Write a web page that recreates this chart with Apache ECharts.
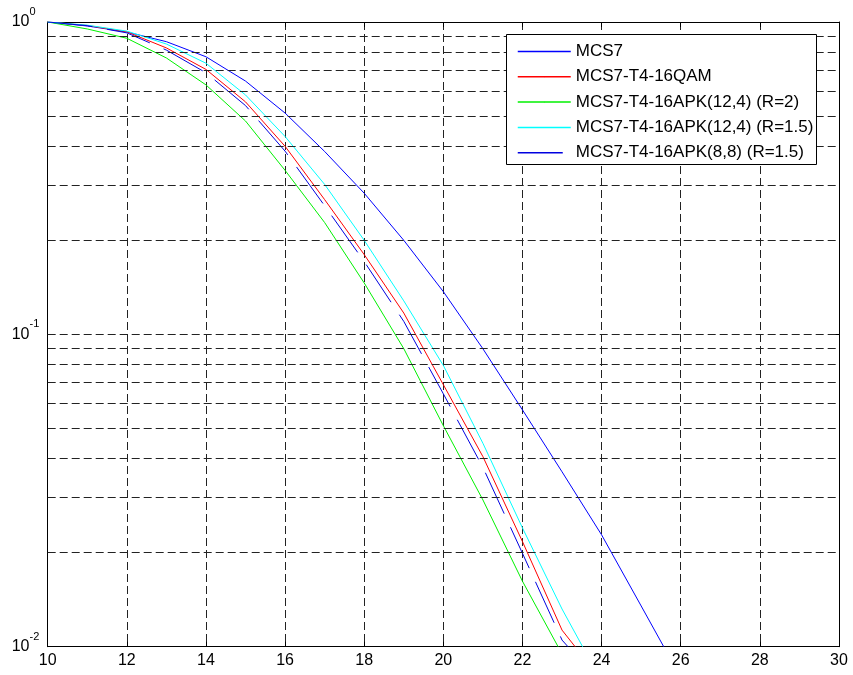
<!DOCTYPE html>
<html>
<head>
<meta charset="utf-8">
<script src="https://cdn.jsdelivr.net/npm/echarts@6/dist/echarts.min.js"></script>
<style>
html,body{margin:0;padding:0;background:#fff;}
#chart{width:853px;height:675px;}
</style>
</head>
<body>
<div id="chart"></div>
<script>
// SNR (dB) and error-rate values per series
const snrMCS7 = [10, 11, 12, 13, 14, 15, 16, 17, 18, 19, 20, 21, 22, 23, 24, 25, 25.57];
const berMCS7 = [1.0, 0.971, 0.929, 0.865, 0.774, 0.647, 0.511, 0.385, 0.283, 0.2, 0.137, 0.0899, 0.0573, 0.0363, 0.0228, 0.0135, 0.01];

const snrQAM = [10, 11, 12, 13, 14, 15, 16, 17, 18, 19, 20, 21, 22, 23, 23.33];
const berQAM = [1.0, 0.975, 0.93, 0.826, 0.705, 0.555, 0.40, 0.27, 0.18, 0.117, 0.069, 0.0406, 0.0217, 0.0113, 0.01];

const snrAPK2 = [10, 11, 12, 13, 14, 15, 16, 17, 18, 19, 20, 21, 22, 22.9];
const berAPK2 = [1.0, 0.95, 0.887, 0.767, 0.629, 0.482, 0.335, 0.228, 0.146, 0.09, 0.051, 0.0295, 0.0162, 0.01];

const snrAPK15 = [10, 11, 12, 13, 14, 15, 16, 17, 18, 19, 20, 21, 22, 23, 23.52];
const berAPK15 = [1.0, 0.977, 0.935, 0.85, 0.738, 0.584, 0.43, 0.302, 0.2, 0.128, 0.0795, 0.0448, 0.024, 0.0132, 0.01];

const snrAPK88 = [10, 11, 12, 13, 14, 15, 16, 17, 18, 19, 20, 21, 22, 23, 23.15];
const berAPK88 = [1.0, 0.973, 0.923, 0.813, 0.688, 0.54, 0.386, 0.258, 0.171, 0.11, 0.0645, 0.0375, 0.0199, 0.0105, 0.01];

const seriesNames = ['MCS7', 'MCS7-T4-16QAM', 'MCS7-T4-16APK(12,4) (R=2)', 'MCS7-T4-16APK(12,4) (R=1.5)', 'MCS7-T4-16APK(8,8) (R=1.5)'];
const xTicks = [10, 12, 14, 16, 18, 20, 22, 24, 26, 28, 30];
const yGridValues = [0.02, 0.03, 0.04, 0.05, 0.06, 0.07, 0.08, 0.09, 0.1, 0.2, 0.3, 0.4, 0.5, 0.6, 0.7, 0.8, 0.9];

const FONT = '"Liberation Sans", Arial, Helvetica, sans-serif';
const pair = (xs, ys) => xs.map((x, i) => [x, ys[i]]);

const chart = echarts.init(document.getElementById('chart'), null, {renderer: 'canvas'});

function lineSeries(name, xs, ys, color, type) {
  return {
    name: name,
    type: 'line',
    data: pair(xs, ys),
    symbol: 'none',
    showSymbol: false,
    smooth: false,
    animation: false,
    lineStyle: {color: color, width: 1, type: type || 'solid', dashOffset: 0},
    itemStyle: {color: color},
    z: 3
  };
}

const gridLineStyle = {color: '#222', width: 1, type: [8, 4]};

const option = {
  animation: false,
  backgroundColor: '#fff',
  grid: {left: 47.7, top: 22, width: 791.3, height: 624.7, containLabel: false},
  xAxis: [{
    type: 'value', min: xTicks[0], max: xTicks[xTicks.length - 1], interval: 2,
    position: 'bottom',
    axisLine: {show: true, onZero: false, lineStyle: {color: '#000', width: 1}},
    axisTick: {show: true, inside: true, length: 5, lineStyle: {color: '#000'}},
    axisLabel: {color: '#000', fontSize: 16, fontFamily: FONT, margin: 6,
      formatter: v => String(v)},
    splitLine: {show: true, lineStyle: gridLineStyle}
  }, {
    type: 'value', min: xTicks[0], max: xTicks[xTicks.length - 1], interval: 2,
    position: 'top',
    axisLine: {show: true, onZero: false, lineStyle: {color: '#000', width: 1}},
    axisTick: {show: true, inside: true, length: 5, lineStyle: {color: '#000'}},
    axisLabel: {show: false},
    splitLine: {show: false}
  }],
  yAxis: [{
    type: 'log', logBase: 10, min: 0.01, max: 1, splitNumber: 2,
    position: 'left',
    axisLine: {show: true, onZero: false, lineStyle: {color: '#000', width: 1}},
    axisTick: {show: true, inside: true, length: 5, lineStyle: {color: '#000'}},
    axisLabel: {
      color: '#000', fontFamily: FONT, align: 'left', margin: 36,
      formatter: v => '{b|10}{s|' + Math.round(Math.log10(v)) + '}',
      rich: {
        b: {fontSize: 16, fontFamily: FONT, color: '#000'},
        s: {fontSize: 11, fontFamily: FONT, color: '#000', padding: [0, 0, 20, 0]}
      }
    },
    splitLine: {show: false}
  }, {
    type: 'log', logBase: 10, min: 0.01, max: 1, splitNumber: 2,
    position: 'right',
    axisLine: {show: true, onZero: false, lineStyle: {color: '#000', width: 1}},
    axisTick: {show: true, inside: true, length: 5, lineStyle: {color: '#000'}},
    axisLabel: {show: false},
    splitLine: {show: false}
  }],
  legend: {
    show: true,
    data: seriesNames,
    orient: 'vertical',
    left: 517, top: 43,
    padding: 0,
    itemWidth: 53, itemHeight: 1, itemGap: 8.3,
    lineStyle: {width: 1.5},
    textStyle: {fontSize: 17, fontFamily: FONT, color: '#000'},
    z: 20,
    selectedMode: false
  },
  graphic: [{
    type: 'rect', z: 10,
    shape: {x: 506.5, y: 34.5, width: 310, height: 130},
    style: {fill: '#fff', stroke: '#000', lineWidth: 1}
  }],
  series: [
    {
      name: '__grid', type: 'line', data: [], symbol: 'none', silent: true, z: 1,
      markLine: {
        silent: true, symbol: 'none', animation: false,
        label: {show: false},
        lineStyle: gridLineStyle,
        data: yGridValues.map(v => ({yAxis: v}))
      }
    },
    lineSeries(seriesNames[0], snrMCS7, berMCS7, '#0000ff'),
    lineSeries(seriesNames[1], snrQAM, berQAM, '#ff0000'),
    lineSeries(seriesNames[2], snrAPK2, berAPK2, '#00f000'),
    lineSeries(seriesNames[3], snrAPK15, berAPK15, '#00ffff'),
    lineSeries(seriesNames[4], snrAPK88, berAPK88, '#0000e0', [45, 15])
  ]
};
chart.setOption(option);
</script>
</body>
</html>
